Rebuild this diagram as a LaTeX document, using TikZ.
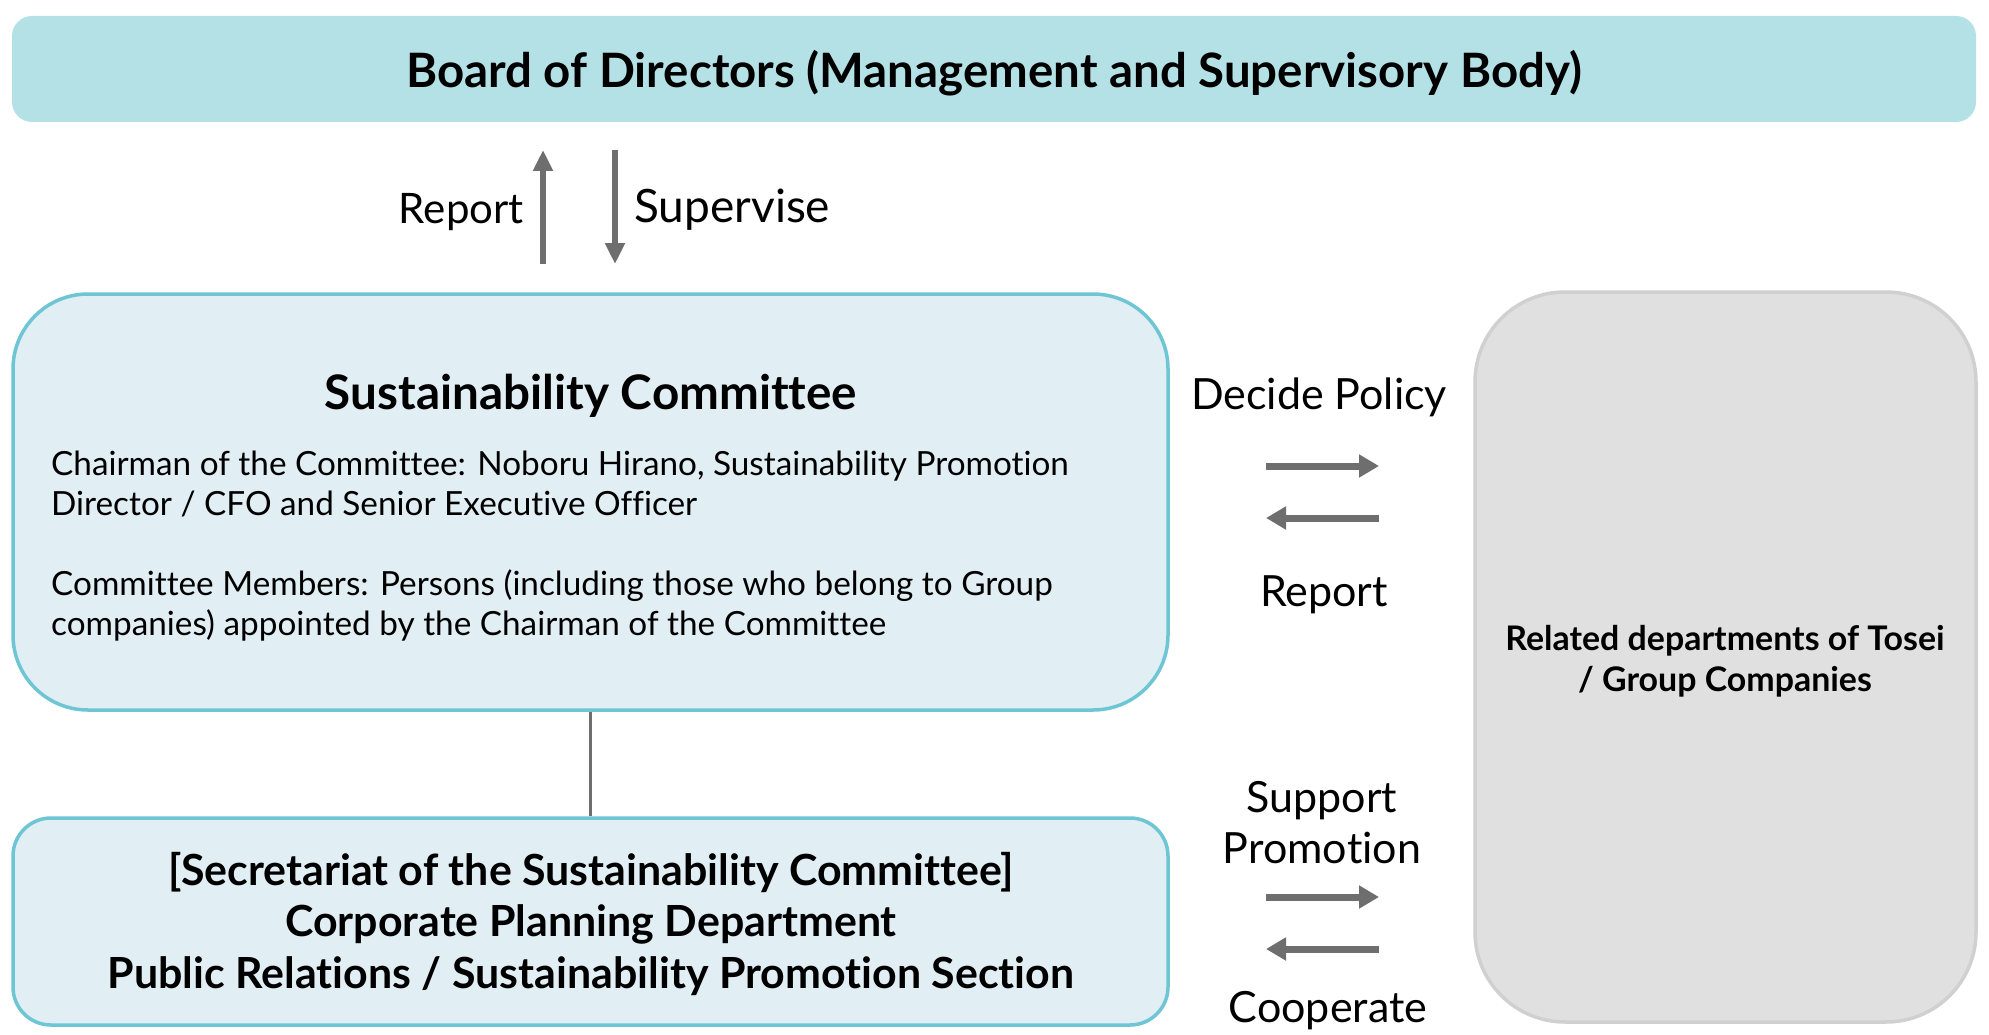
\documentclass[tikz,border=0pt]{standalone}
\usepackage{fontspec}
\setmainfont{Lato}[Ligatures={NoCommon}]
\usetikzlibrary{arrows.meta}
\definecolor{boardfill}{HTML}{B4E1E6}
\definecolor{comfill}{HTML}{E1EEF4}
\definecolor{comline}{HTML}{6EC5D3}
\definecolor{relfill}{HTML}{E0E0E0}
\definecolor{relline}{HTML}{D0D0D0}
\definecolor{arrowgray}{HTML}{6E6E6E}
\tikzset{
  board/.style={fill=boardfill, draw=none, rounded corners=20pt, inner sep=0pt},
  combox/.style={fill=comfill, draw=comline, line width=3.5pt, inner sep=0pt},
  relbox/.style={fill=relfill, draw=relline, line width=3.5pt, rounded corners=90pt, inner sep=0pt},
  flowarrow/.style={draw=arrowgray, line width=7pt, -{Triangle[width=22pt,length=20pt]}},
  vertarrow/.style={draw=arrowgray, line width=6pt, -{Triangle[width=19pt,length=21pt]}},
  label/.style={font=\fontsize{43}{50}\selectfont, inner sep=0pt, align=center},
}
\begin{document}
\begin{tikzpicture}[x=1pt,y=-1pt]
\useasboundingbox (0,0) rectangle (1989,1035);

% Board of Directors
\node[board, minimum width=1964pt, minimum height=106pt] (board) at (994,69) {};
\node[font=\fontsize{47.4}{50}\selectfont\bfseries] (boardtxt) at (994,73)
  {Board of Directors (Management and Supervisory Body)};

% Sustainability Committee
\node[combox, rounded corners=75pt, minimum width=1155pt, minimum height=416pt] (sc) at (590.5,502) {};
\node[font=\fontsize{47.6}{50}\selectfont\bfseries, anchor=base] (sctitle) at (591,409)
  {Sustainability Committee};
\node[font=\fontsize{33.3}{40}\selectfont, anchor=base west, align=left, inner sep=0pt] (chair) at (51,515)
  {Chairman of the Committee: Noboru Hirano, Sustainability Promotion\\Director / CFO and Senior Executive Officer};
\node[font=\fontsize{33.3}{40}\selectfont, anchor=base west, align=left, inner sep=0pt] (members) at (51,635)
  {Committee Members: Persons (including those who belong to Group\\companies) appointed by the Chairman of the Committee};

% Secretariat
\node[combox, rounded corners=38pt, minimum width=1155pt, minimum height=207pt] (sec) at (590.5,921.5) {};
\node[font=\fontsize{42.9}{51.5}\selectfont\bfseries, align=center, anchor=base, inner sep=0pt] (sectxt) at (591,988)
  {[Secretariat of the Sustainability Committee]\\Corporate Planning Department\\Public Relations / Sustainability Promotion Section};

\draw[draw=arrowgray, line width=2.5pt] (sc.south) -- (sec.north);

% Related departments
\node[relbox, minimum width=501pt, minimum height=730pt] (rel) at (1725.5,657) {};
\node[font=\fontsize{33.9}{41}\selectfont\bfseries, align=center] (reltxt) at (1725,661)
  {Related departments of Tosei\\/ Group Companies};

% Board <-> Committee
\coordinate (repS) at (543,264);
\coordinate (repE) at (543,150);
\coordinate (supS) at (615,150);
\coordinate (supE) at (615,264);
\draw[vertarrow] (repS) -- (repE);
\draw[vertarrow] (supS) -- (supE);
\node[label, font=\fontsize{42}{50}\selectfont, anchor=east] (replbl) at (524,212) {Report};
\node[label, font=\fontsize{46}{50}\selectfont, anchor=west] (suplbl) at (634,210) {Supervise};

% Committee <-> related departments
\coordinate (dpA) at (1266,466);
\coordinate (dpB) at (1379,466);
\coordinate (rpA) at (1379,518);
\coordinate (rpB) at (1266,518);
\draw[flowarrow] (dpA) -- (dpB);
\draw[flowarrow] (rpA) -- (rpB);
\node[label] (decide) at (1319,397) {Decide Policy};
\node[label] (report2) at (1324,595) {Report};

% Secretariat <-> related departments
\coordinate (spA) at (1266,897);
\coordinate (spB) at (1379,897);
\coordinate (coA) at (1379,949);
\coordinate (coB) at (1266,949);
\draw[flowarrow] (spA) -- (spB);
\draw[flowarrow] (coA) -- (coB);
\node[label, font=\fontsize{43}{51}\selectfont] (support) at (1322,823) {Support\\Promotion};
\node[label] (coop) at (1328,1011) {Cooperate};
\end{tikzpicture}
\end{document}
